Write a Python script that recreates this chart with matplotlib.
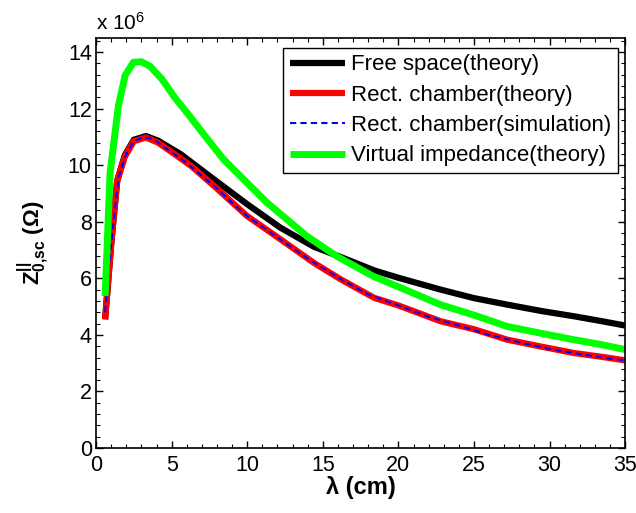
import numpy as np
import matplotlib
matplotlib.use('Agg')
import matplotlib.pyplot as plt
from matplotlib.ticker import MultipleLocator

plt.rcParams['font.family'] = ['Liberation Sans', 'DejaVu Sans']
plt.rcParams['mathtext.fontset'] = 'custom'
plt.rcParams['mathtext.rm'] = 'Liberation Sans'
plt.rcParams['mathtext.it'] = 'Liberation Sans:italic'
plt.rcParams['mathtext.bf'] = 'Liberation Sans:bold'

# wavelength (cm) and impedance (x 1e6 Ohm)
lam_free = [0.6, 1.0, 1.4, 1.9, 2.5, 3.3, 4.1, 5.6, 7.8, 10.0, 12.2, 14.4,
            16.2, 18.4, 20.0, 22.8, 25.0, 27.2, 29.5, 31.6, 33.5, 35.0]
z_free = [4.55, 7.2, 9.45, 10.35, 10.9, 11.03, 10.87, 10.39, 9.5, 8.62, 7.79, 7.12,
          6.75, 6.28, 6.02, 5.6, 5.3, 5.07, 4.84, 4.66, 4.48, 4.33]

lam_rect = [0.6, 1.0, 1.4, 1.9, 2.5, 3.3, 4.1, 5.2, 6.3, 7.8, 10.0, 12.2, 14.4,
            16.2, 18.4, 20.0, 22.8, 25.0, 27.2, 29.5, 31.6, 33.5, 35.0]
z_rect = [4.55, 7.2, 9.45, 10.3, 10.85, 10.98, 10.8, 10.39, 9.97, 9.27, 8.2, 7.38, 6.55,
          5.96, 5.31, 5.04, 4.48, 4.2, 3.83, 3.58, 3.36, 3.22, 3.1]

lam_sim = [0.6, 1.0, 1.5, 2.0, 2.5, 3.0, 3.5, 4.0, 5.0, 6.0, 7.0, 8.0, 9.0, 10.0,
           12.0, 14.0, 16.0, 18.0, 20.0, 22.0, 24.0, 26.0, 28.0, 30.0, 32.0, 34.0, 35.0]
z_sim = [4.8, 7.2, 9.6, 10.4, 10.85, 10.96, 10.97, 10.84, 10.46, 10.08, 9.62, 9.18, 8.67, 8.2,
         7.45, 6.7, 6.03, 5.43, 5.04, 4.64, 4.33, 4.0, 3.74, 3.5, 3.32, 3.16, 3.1]

lam_virt = [0.6, 0.93, 1.48, 1.92, 2.47, 3.0, 3.57, 4.35, 5.2, 6.1, 7.2, 8.43, 11.3,
            13.94, 15.93, 18.35, 20.0, 22.77, 25.0, 27.18, 29.5, 31.6, 33.5, 35.0]
z_virt = [5.37, 9.74, 12.1, 13.17, 13.64, 13.66, 13.5, 13.05, 12.4, 11.8, 11.04, 10.21, 8.68,
          7.49, 6.78, 6.07, 5.7, 5.07, 4.7, 4.3, 4.05, 3.83, 3.65, 3.48]

fig = plt.figure(figsize=(6.36, 5.13), dpi=100)
ax = fig.add_axes([0.151, 0.1267, 0.832, 0.7993])

ax.plot(lam_free, z_free, color='black', lw=4.5, solid_capstyle='butt', label='Free space(theory)')
ax.plot(lam_rect, z_rect, color='red', lw=4.5, solid_capstyle='butt', label='Rect. chamber(theory)')
ax.plot(lam_sim, z_sim, color='blue', lw=1.5, ls=(0, (3, 2)), label='Rect. chamber(simulation)')
ax.plot(lam_virt, z_virt, color='#00ff00', lw=5, solid_capstyle='butt', label='Virtual impedance(theory)')

ax.set_xlim(0, 35)
ax.set_ylim(0, 14.5)
ax.xaxis.set_major_locator(MultipleLocator(5))
ax.xaxis.set_minor_locator(MultipleLocator(1))
ax.yaxis.set_major_locator(MultipleLocator(2))
ax.yaxis.set_minor_locator(MultipleLocator(0.4))
ax.tick_params(which='both', direction='in', top=True, right=True, labelsize=15.5)
ax.tick_params(which='major', length=5, width=1)
ax.tick_params(which='minor', length=3, width=0.8)
ax.tick_params(axis='y', pad=3)
ax.tick_params(axis='x', pad=5)
for s in ax.spines.values():
    s.set_linewidth(1.2)

ax.set_xlabel('λ (cm)', fontsize=17, fontweight='bold', labelpad=0)
ax.set_ylabel(r'$\mathbf{Z^{||}_{0{,}sc}}$ $\mathbf{(\Omega)}$', fontsize=16, labelpad=12)
ax.text(0.0, 1.01, r'x 10$^6$', transform=ax.transAxes, fontsize=15, ha='left', va='bottom')

leg = ax.legend(loc='upper right', bbox_to_anchor=(0.987, 0.976), fontsize=16,
                handlelength=2.5, handletextpad=0.27, labelspacing=0.42, borderpad=0.3,
                borderaxespad=0, fancybox=False, framealpha=1)
leg.get_frame().set_edgecolor('black')
leg.get_frame().set_linewidth(1.0)

fig.savefig('out.png', dpi=100)
